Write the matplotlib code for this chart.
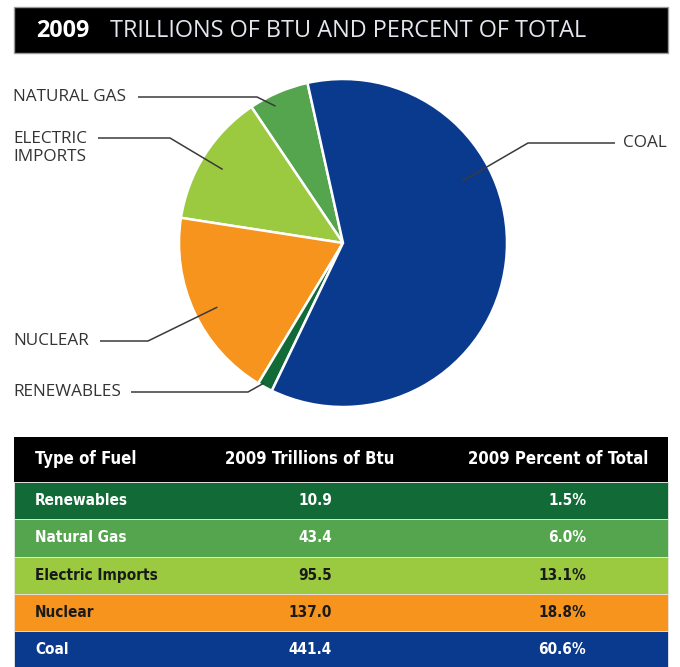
import numpy as np
import matplotlib.pyplot as plt
from matplotlib.patches import Rectangle

# 2009 energy consumption by fuel type (trillions of Btu)
fuels = ["Renewables", "Natural Gas", "Electric Imports", "Nuclear", "Coal"]
btu_2009 = [10.9, 43.4, 95.5, 137.0, 441.4]
pct_2009 = [1.5, 6.0, 13.1, 18.8, 60.6]
pie_labels = ["RENEWABLES", "NATURAL GAS", "ELECTRIC\nIMPORTS", "NUCLEAR", "COAL"]
colors = ["#126b37", "#55a54f", "#9bc940", "#f7941d", "#0a3a8d"]
row_text = ["white", "white", "#1a1a1a", "#1a1a1a", "white"]
headers = ["Type of Fuel", "2009 Trillions of Btu", "2009 Percent of Total"]

W, H = 680, 667
LABEL_FONT = ["Open Sans", "DejaVu Sans"]
TABLE_FONT = ["DejaVu Sans"]

fig = plt.figure(figsize=(W / 100, H / 100), dpi=100)
ax = fig.add_axes([0, 0, 1, 1])


def py(y):
    # layout measured from the top edge
    return H - y


# pie, drawn counter-clockwise from the top starting with natural gas
order = [1, 2, 3, 0, 4]
cx, cy, r = 343, py(243), 164
wedges, _ = ax.pie([btu_2009[i] for i in order], colors=[colors[i] for i in order],
                   startangle=102.5, counterclock=True, center=(cx, cy), radius=r,
                   wedgeprops=dict(edgecolor="white", linewidth=1.8))

# leader lines: label position, elbow, anchor inside the wedge
leaders = {
    1: dict(text=(13, 97), start=138, elbow=(257, 97), rf=0.93, dang=3),
    2: dict(text=(13, 148), start=98, elbow=(170, 138), rf=0.86, dang=1),
    3: dict(text=(13, 341), start=100, elbow=(148, 341), rf=0.86, dang=2),
    0: dict(text=(13, 392), start=131, elbow=(248, 392), rf=0.98, dang=-1),
    4: dict(text=(623, 143), start=615, elbow=(528, 143), rf=0.82, dang=34),
}
for w, i in zip(wedges, order):
    L = leaders[i]
    ang = np.deg2rad((w.theta1 + w.theta2) / 2 + L["dang"])
    ax_, ay_ = cx + L["rf"] * r * np.cos(ang), cy + L["rf"] * r * np.sin(ang)
    ey = L["elbow"][1]
    ax.plot([L["start"], L["elbow"][0], ax_], [py(ey), py(ey), ay_],
            color="#3a3a3a", lw=1.1, solid_capstyle="butt")
    ax.text(L["text"][0], py(L["text"][1]), pie_labels[i], ha="left", va="center",
            fontsize=12.3, color="#333333", family=LABEL_FONT, linespacing=1.2)

# title bar
ax.add_patch(Rectangle((14, py(53)), 654, 46, facecolor="black",
                       edgecolor="#9a9a9a", lw=1))
ax.text(36, py(31), "2009", color="white", fontsize=16.8, fontweight="bold",
        family=LABEL_FONT, va="center", ha="left")
ax.text(110, py(31), "TRILLIONS OF BTU AND PERCENT OF TOTAL", color="#e4e6ee",
        fontsize=16.9, family=LABEL_FONT, va="center", ha="left")

# table: header row and one colored row per fuel
top, head_h, row_h = 437, 45, 37.3
ax.barh(py(top + head_h / 2), 654, height=head_h, left=14, color="black")
row_y = [py(top + head_h + (k + 0.5) * row_h) for k in range(len(fuels))]
ax.barh(row_y, 654, height=row_h, left=14, color=colors,
        edgecolor="#e8e8e8", linewidth=0.6)

hkw = dict(color="white", fontsize=12, fontweight="bold", family=TABLE_FONT,
           fontstretch="condensed", va="center")
hy = py(top + head_h / 2)
ax.text(35, hy, headers[0], ha="left", **hkw)
ax.text(310, hy, headers[1], ha="center", **hkw)
ax.text(558, hy, headers[2], ha="center", **hkw)

for y, name, v, p, tc in zip(row_y, fuels, btu_2009, pct_2009, row_text):
    kw = dict(color=tc, fontsize=11, fontweight="bold", family=TABLE_FONT,
              fontstretch="condensed", va="center")
    ax.text(35, y, name, ha="left", **kw)
    ax.text(332, y, f"{v:.1f}", ha="right", **kw)
    ax.text(586, y, f"{p:.1f}%", ha="right", **kw)

ax.set_xlim(0, W)
ax.set_ylim(0, H)
ax.set_aspect("auto")
ax.axis("off")

fig.savefig("out.png", dpi=100)
